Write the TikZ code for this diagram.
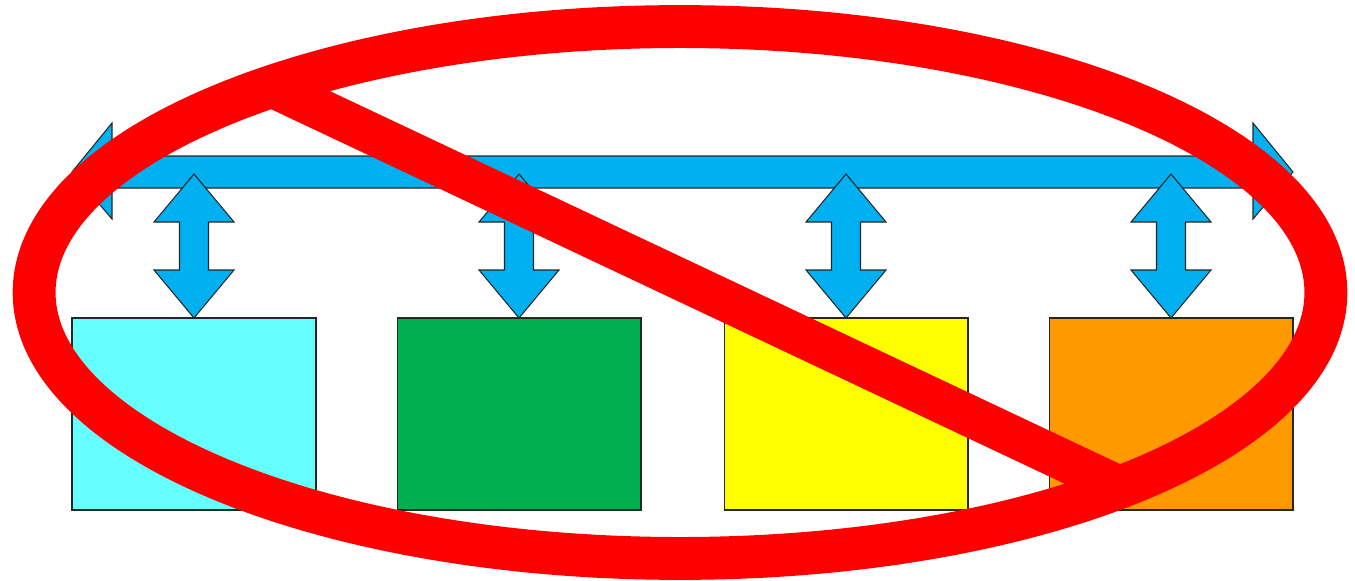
\documentclass[tikz,border=0pt]{standalone}
\usetikzlibrary{calc}
\definecolor{busblue}{RGB}{0,176,240}
\definecolor{boxcyan}{RGB}{102,255,255}
\definecolor{boxgreen}{RGB}{0,176,80}
\definecolor{boxyellow}{RGB}{255,255,0}
\definecolor{boxorange}{RGB}{255,153,0}
\definecolor{signred}{RGB}{255,0,0}
\tikzset{
  box/.style={draw=black!85, line width=0.6pt, minimum width=4.88cm, minimum height=3.84cm, inner sep=0pt, outer sep=0pt},
  blockarrow/.style={draw=black!85, fill=busblue, line width=0.6pt, line join=miter},
  signline/.style={draw=signred, line width=24.4pt},
  pics/dblarrow/.style={code={
    \path[blockarrow] (0,0) -- (40,-48) -- (14.5,-48) -- (14.5,-96) -- (40,-96) -- (0,-144)
      -- (-40,-96) -- (-14.5,-96) -- (-14.5,-48) -- (-40,-48) -- cycle;
  }}
}
\begin{document}
\begin{tikzpicture}[x=0.02cm, y=-0.02cm]
\useasboundingbox (0,0) rectangle (1355,581);
% bus
\path[blockarrow] (72,172) -- (112,123) -- (112,156) -- (1253,156) -- (1253,123) -- (1293,172)
  -- (1253,219) -- (1253,188) -- (112,188) -- (112,219) -- cycle;
% boxes
\node[box, fill=boxcyan]   (b1) at (194,414) {};
\node[box, fill=boxgreen]  (b2) at (519,414) {};
\node[box, fill=boxyellow] (b3) at (846,414) {};
\node[box, fill=boxorange] (b4) at (1171,414) {};
% double arrows
\foreach \i in {1,...,4} { \pic at (b\i.north) {dblarrow}; }
% prohibition sign
\coordinate (sc) at (680,292.5);
\begin{scope}
  \clip (sc) ellipse [x radius=13.34cm, y radius=5.74cm];
  \draw[signred, line width=23.6pt] (200,52.7) -- (1200,524.7);
\end{scope}
\draw[signline] (sc) ellipse [x radius=12.92cm, y radius=5.32cm];
\end{tikzpicture}
\end{document}
